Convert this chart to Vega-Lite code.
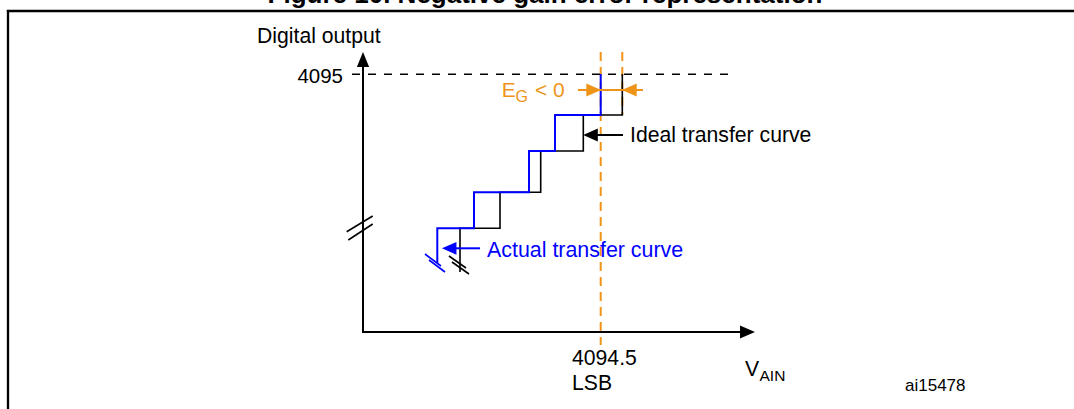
{
  "$schema": "https://vega.github.io/schema/vega-lite/v6.json",
  "width": 1074,
  "height": 409,
  "autosize": {"type": "none"},
  "padding": 0,
  "background": "white",
  "config": {"view": {"stroke": null}, "text": {"font": "Liberation Sans", "baseline": "alphabetic"}},
  "datasets": {
    "frame": [
      {"x": -355, "y": 322, "x2": -355, "y2": -80},
      {"x": -356.2, "y": 321, "x2": 715, "y2": 321}
    ],
    "axes": [
      {"x": 0, "y": -1, "x2": 0, "y2": 266},
      {"x": -1, "y": 0, "x2": 378, "y2": 0}
    ],
    "level": [
      {"x": -11, "y": 257.7, "x2": 365, "y2": 257.7}
    ],
    "gainLines": [
      {"x": 237.7, "y": 280, "x2": 237.7, "y2": -13},
      {"x": 259.3, "y": 280, "x2": 259.3, "y2": 217}
    ],
    "ideal": [
      {"i": 0, "x": 97, "y": 60},
      {"i": 1, "x": 97, "y": 103.7},
      {"i": 2, "x": 137, "y": 103.7},
      {"i": 3, "x": 137, "y": 139.7},
      {"i": 4, "x": 177.7, "y": 139.7},
      {"i": 5, "x": 177.7, "y": 181},
      {"i": 6, "x": 220.3, "y": 181},
      {"i": 7, "x": 220.3, "y": 217},
      {"i": 8, "x": 259.3, "y": 217},
      {"i": 9, "x": 259.3, "y": 258}
    ],
    "actual": [
      {"i": 0, "x": 74.3, "y": 69},
      {"i": 1, "x": 74.3, "y": 103.7},
      {"i": 2, "x": 111, "y": 103.7},
      {"i": 3, "x": 111, "y": 139.7},
      {"i": 4, "x": 166, "y": 139.7},
      {"i": 5, "x": 166, "y": 181},
      {"i": 6, "x": 192, "y": 181},
      {"i": 7, "x": 192, "y": 217},
      {"i": 8, "x": 237.7, "y": 217},
      {"i": 9, "x": 237.7, "y": 258}
    ],
    "breaksBlack": [
      {"x": -16.3, "y": 100.3, "x2": 9.7, "y2": 116},
      {"x": -14.7, "y": 92, "x2": 9.7, "y2": 108},
      {"x": 86, "y": 76, "x2": 103, "y2": 64},
      {"x": 89, "y": 70, "x2": 106, "y2": 58}
    ],
    "breaksBlue": [
      {"x": 62, "y": 78, "x2": 78, "y2": 66},
      {"x": 66, "y": 72, "x2": 82, "y2": 60}
    ],
    "shafts": [
      {"s": "gain", "x": 215, "y": 242, "x2": 280, "y2": 242},
      {"s": "ideal", "x": 225, "y": 197, "x2": 260, "y2": 197},
      {"s": "actual", "x": 86, "y": 83.7, "x2": 117, "y2": 83.7}
    ],
    "heads": [
      {"s": "axis", "dir": "up", "x": 0, "y": 272.5},
      {"s": "axis", "dir": "right", "x": 384.5, "y": 0},
      {"s": "gain", "dir": "right", "x": 230.7, "y": 242},
      {"s": "gain", "dir": "left", "x": 266.3, "y": 242},
      {"s": "ideal", "dir": "left", "x": 227.5, "y": 197},
      {"s": "actual", "dir": "left", "x": 86.2, "y": 83.7}
    ],
    "textBlack": [
      {"x": -106, "y": 289, "t": "Digital output"},
      {"x": 267, "y": 190, "t": "Ideal transfer curve"},
      {"x": 209, "y": -33, "t": "4094.5"},
      {"x": 209, "y": -58, "t": "LSB"},
      {"x": 382, "y": -44, "t": "V"}
    ],
    "textRight": [
      {"x": -20, "y": 249, "t": "4095"}
    ],
    "textSub": [
      {"x": 396.5, "y": -49, "t": "AIN"}
    ],
    "textId": [
      {"x": 542, "y": -59, "t": "ai15478"}
    ],
    "textOrange": [
      {"x": 138.7, "y": 235.5, "t": "E"},
      {"x": 172, "y": 235.5, "t": "< 0"}
    ],
    "textOrangeSub": [
      {"x": 152.5, "y": 230, "t": "G"}
    ],
    "textBlue": [
      {"x": 124, "y": 75, "t": "Actual transfer curve"}
    ],
    "title": [
      {"x": 182, "y": 329, "t": "Figure 10. Negative gain error representation"}
    ]
  },
  "layer": [
    {
      "data": {"name": "frame"},
      "mark": {"type": "rule", "color": "#000000", "strokeWidth": 2.3},
      "encoding": {
        "x": {"field": "x", "type": "quantitative", "scale": {"domain": [-363, 711], "nice": false, "zero": false}, "axis": null},
        "y": {"field": "y", "type": "quantitative", "scale": {"domain": [-77, 332], "nice": false, "zero": false}, "axis": null},
        "x2": {"field": "x2"},
        "y2": {"field": "y2"}
      }
    },
    {
      "data": {"name": "gainLines"},
      "mark": {"type": "rule", "color": "#EE9419", "strokeWidth": 2, "strokeDash": [9, 6]},
      "encoding": {
        "x": {"field": "x", "type": "quantitative", "scale": {"domain": [-363, 711], "nice": false, "zero": false}, "axis": null},
        "y": {"field": "y", "type": "quantitative", "scale": {"domain": [-77, 332], "nice": false, "zero": false}, "axis": null},
        "x2": {"field": "x2"},
        "y2": {"field": "y2"}
      }
    },
    {
      "data": {"name": "level"},
      "mark": {"type": "rule", "color": "#000000", "strokeWidth": 1.6, "strokeDash": [8, 8]},
      "encoding": {
        "x": {"field": "x", "type": "quantitative", "scale": {"domain": [-363, 711], "nice": false, "zero": false}, "axis": null},
        "y": {"field": "y", "type": "quantitative", "scale": {"domain": [-77, 332], "nice": false, "zero": false}, "axis": null},
        "x2": {"field": "x2"},
        "y2": {"field": "y2"}
      }
    },
    {
      "data": {"name": "axes"},
      "mark": {"type": "rule", "color": "#000000", "strokeWidth": 2},
      "encoding": {
        "x": {"field": "x", "type": "quantitative", "scale": {"domain": [-363, 711], "nice": false, "zero": false}, "axis": null},
        "y": {"field": "y", "type": "quantitative", "scale": {"domain": [-77, 332], "nice": false, "zero": false}, "axis": null},
        "x2": {"field": "x2"},
        "y2": {"field": "y2"}
      }
    },
    {
      "data": {"name": "breaksBlack"},
      "mark": {"type": "rule", "color": "#000000", "strokeWidth": 1.6},
      "encoding": {
        "x": {"field": "x", "type": "quantitative", "scale": {"domain": [-363, 711], "nice": false, "zero": false}, "axis": null},
        "y": {"field": "y", "type": "quantitative", "scale": {"domain": [-77, 332], "nice": false, "zero": false}, "axis": null},
        "x2": {"field": "x2"},
        "y2": {"field": "y2"}
      }
    },
    {
      "data": {"name": "breaksBlue"},
      "mark": {"type": "rule", "color": "#0000FF", "strokeWidth": 1.6},
      "encoding": {
        "x": {"field": "x", "type": "quantitative", "scale": {"domain": [-363, 711], "nice": false, "zero": false}, "axis": null},
        "y": {"field": "y", "type": "quantitative", "scale": {"domain": [-77, 332], "nice": false, "zero": false}, "axis": null},
        "x2": {"field": "x2"},
        "y2": {"field": "y2"}
      }
    },
    {
      "data": {"name": "ideal"},
      "mark": {"type": "line", "color": "#000000", "strokeWidth": 1.6, "strokeJoin": "miter"},
      "encoding": {
        "x": {"field": "x", "type": "quantitative", "scale": {"domain": [-363, 711], "nice": false, "zero": false}, "axis": null},
        "y": {"field": "y", "type": "quantitative", "scale": {"domain": [-77, 332], "nice": false, "zero": false}, "axis": null},
        "order": {"field": "i", "type": "quantitative"}
      }
    },
    {
      "data": {"name": "actual"},
      "mark": {"type": "line", "color": "#0000FF", "strokeWidth": 2, "strokeJoin": "miter"},
      "encoding": {
        "x": {"field": "x", "type": "quantitative", "scale": {"domain": [-363, 711], "nice": false, "zero": false}, "axis": null},
        "y": {"field": "y", "type": "quantitative", "scale": {"domain": [-77, 332], "nice": false, "zero": false}, "axis": null},
        "order": {"field": "i", "type": "quantitative"}
      }
    },
    {
      "data": {"name": "shafts"},
      "mark": {"type": "rule", "strokeWidth": 2},
      "encoding": {
        "x": {"field": "x", "type": "quantitative", "scale": {"domain": [-363, 711], "nice": false, "zero": false}, "axis": null},
        "y": {"field": "y", "type": "quantitative", "scale": {"domain": [-77, 332], "nice": false, "zero": false}, "axis": null},
        "x2": {"field": "x2"},
        "y2": {"field": "y2"},
        "color": {"field": "s", "type": "nominal", "scale": {"domain": ["axis", "gain", "ideal", "actual"], "range": ["#000000", "#EE9419", "#000000", "#0000FF"]}, "legend": null}
      }
    },
    {
      "data": {"name": "heads"},
      "mark": {"type": "point", "filled": true, "opacity": 1, "strokeWidth": 0},
      "encoding": {
        "x": {"field": "x", "type": "quantitative", "scale": {"domain": [-363, 711], "nice": false, "zero": false}, "axis": null},
        "y": {"field": "y", "type": "quantitative", "scale": {"domain": [-77, 332], "nice": false, "zero": false}, "axis": null},
        "shape": {"field": "dir", "type": "nominal", "scale": {"domain": ["up", "right", "left"], "range": ["M0,-1L0.82,1L-0.82,1Z", "M1,0L-1,0.88L-1,-0.88Z", "M-1,0L1,0.88L1,-0.88Z"]}, "legend": null},
        "size": {"field": "s", "type": "nominal", "scale": {"domain": ["axis", "gain", "ideal", "actual"], "range": [225, 210, 169, 225]}, "legend": null},
        "color": {"field": "s", "type": "nominal", "scale": {"domain": ["axis", "gain", "ideal", "actual"], "range": ["#000000", "#EE9419", "#000000", "#0000FF"]}, "legend": null}
      }
    },
    {
      "data": {"name": "textBlack"},
      "mark": {"type": "text", "align": "left", "fontSize": 21.2, "color": "#000000"},
      "encoding": {
        "x": {"field": "x", "type": "quantitative", "scale": {"domain": [-363, 711], "nice": false, "zero": false}, "axis": null},
        "y": {"field": "y", "type": "quantitative", "scale": {"domain": [-77, 332], "nice": false, "zero": false}, "axis": null},
        "text": {"field": "t"}
      }
    },
    {
      "data": {"name": "textRight"},
      "mark": {"type": "text", "align": "right", "fontSize": 20.5, "color": "#000000"},
      "encoding": {
        "x": {"field": "x", "type": "quantitative", "scale": {"domain": [-363, 711], "nice": false, "zero": false}, "axis": null},
        "y": {"field": "y", "type": "quantitative", "scale": {"domain": [-77, 332], "nice": false, "zero": false}, "axis": null},
        "text": {"field": "t"}
      }
    },
    {
      "data": {"name": "textSub"},
      "mark": {"type": "text", "align": "left", "fontSize": 15.5, "color": "#000000"},
      "encoding": {
        "x": {"field": "x", "type": "quantitative", "scale": {"domain": [-363, 711], "nice": false, "zero": false}, "axis": null},
        "y": {"field": "y", "type": "quantitative", "scale": {"domain": [-77, 332], "nice": false, "zero": false}, "axis": null},
        "text": {"field": "t"}
      }
    },
    {
      "data": {"name": "textId"},
      "mark": {"type": "text", "align": "left", "fontSize": 17, "color": "#000000"},
      "encoding": {
        "x": {"field": "x", "type": "quantitative", "scale": {"domain": [-363, 711], "nice": false, "zero": false}, "axis": null},
        "y": {"field": "y", "type": "quantitative", "scale": {"domain": [-77, 332], "nice": false, "zero": false}, "axis": null},
        "text": {"field": "t"}
      }
    },
    {
      "data": {"name": "textOrange"},
      "mark": {"type": "text", "align": "left", "fontSize": 21, "color": "#EE9419"},
      "encoding": {
        "x": {"field": "x", "type": "quantitative", "scale": {"domain": [-363, 711], "nice": false, "zero": false}, "axis": null},
        "y": {"field": "y", "type": "quantitative", "scale": {"domain": [-77, 332], "nice": false, "zero": false}, "axis": null},
        "text": {"field": "t"}
      }
    },
    {
      "data": {"name": "textOrangeSub"},
      "mark": {"type": "text", "align": "left", "fontSize": 16, "color": "#EE9419"},
      "encoding": {
        "x": {"field": "x", "type": "quantitative", "scale": {"domain": [-363, 711], "nice": false, "zero": false}, "axis": null},
        "y": {"field": "y", "type": "quantitative", "scale": {"domain": [-77, 332], "nice": false, "zero": false}, "axis": null},
        "text": {"field": "t"}
      }
    },
    {
      "data": {"name": "textBlue"},
      "mark": {"type": "text", "align": "left", "fontSize": 21.4, "color": "#0000FF"},
      "encoding": {
        "x": {"field": "x", "type": "quantitative", "scale": {"domain": [-363, 711], "nice": false, "zero": false}, "axis": null},
        "y": {"field": "y", "type": "quantitative", "scale": {"domain": [-77, 332], "nice": false, "zero": false}, "axis": null},
        "text": {"field": "t"}
      }
    },
    {
      "data": {"name": "title"},
      "mark": {"type": "text", "align": "center", "fontSize": 26, "fontWeight": "bold", "color": "#000000"},
      "encoding": {
        "x": {"field": "x", "type": "quantitative", "scale": {"domain": [-363, 711], "nice": false, "zero": false}, "axis": null},
        "y": {"field": "y", "type": "quantitative", "scale": {"domain": [-77, 332], "nice": false, "zero": false}, "axis": null},
        "text": {"field": "t"}
      }
    }
  ]
}
